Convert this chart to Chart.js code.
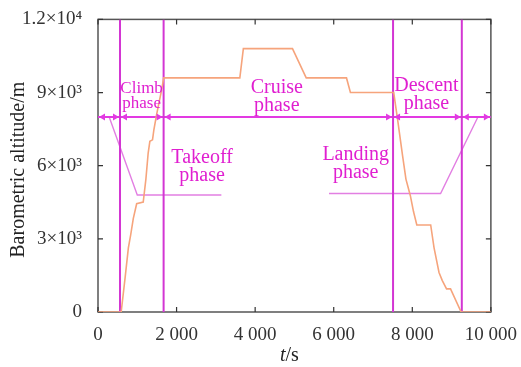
<!DOCTYPE html>
<html>
<head>
<meta charset="utf-8">
<script src="https://cdn.jsdelivr.net/npm/chart.js@4.4.1/dist/chart.umd.min.js"></script>
<style>
  html, body { margin: 0; padding: 0; background: #fff; }
  #chart { display: block; }
</style>
</head>
<body>
<canvas id="chart" width="521" height="367"></canvas>
<script>
// flight profile: barometric altitude vs time
var timeS = [0, 590, 691, 773, 833, 899, 984, 1151, 1219, 1277, 1320, 1388, 1421, 1489, 1547, 1615, 1673,
    3610, 3700, 4950, 5300, 6325, 6425, 7527, 7628, 7754, 7838, 7949, 8032, 8115, 8468, 8554, 8680,
    8764, 8872, 8973, 9243, 10000];
var altitudeM = [0, 0, 1420, 2630, 3170, 3840, 4440, 4510, 5450, 6520, 7000, 7060, 7460, 8070, 8540, 9070, 9600,
    9600, 10800, 10800, 9600, 9600, 9000, 9000, 7870, 6390, 5450, 4780, 4110, 3570, 3570, 2630, 1620,
    1290, 950, 950, 0, 0];

// phase boundaries (s) and the level of the arrow line
var phaseBounds = [560, 1670, 7510, 9260];
var arrowLevel = 8000;

// leader lines for the takeoff / landing labels
var takeoffLeaderT = [285, 1000, 3140];
var takeoffLeaderAlt = [8000, 4800, 4800];
var landingLeaderT = [5880, 8720, 9670];
var landingLeaderAlt = [4860, 4860, 8000];

var xTicks = [0, 2000, 4000, 6000, 8000, 10000];
var xTickLabels = ['0', '2 000', '4 000', '6 000', '8 000', '10 000'];
var yTicks = [0, 3000, 6000, 9000, 12000];
var yTickLabels = ['0', '3×10³', '6×10³', '9×10³', '1.2×10⁴'];

var phaseLabels = [
    { text: ['Climb', 'phase'], t: 1110, alt: 9000, size: 17 },
    { text: ['Cruise', 'phase'], t: 4550, alt: 9000, size: 20 },
    { text: ['Descent', 'phase'], t: 8360, alt: 9080, size: 20 },
    { text: ['Takeoff', 'phase'], t: 2650, alt: 6120, size: 20 },
    { text: ['Landing', 'phase'], t: 6560, alt: 6250, size: 20 }
];

var magenta = '#d336d3';
var arrowColor = '#e23ae2';
var leaderColor = '#e27fe2';
var textColor = '#e01fd0';
var serif = '"Liberation Serif", "Times New Roman", serif';

function pts(xs, ys) {
    return xs.map(function (x, i) { return { x: x, y: ys[i] }; });
}

var datasets = [];

// altitude curve (first = drawn on top)
datasets.push({
    data: pts(timeS, altitudeM),
    borderColor: '#f6a47c',
    borderWidth: 1.6
});

// vertical phase boundaries
phaseBounds.forEach(function (b) {
    datasets.push({
        data: [{ x: b, y: 0 }, { x: b, y: 12000 }],
        borderColor: magenta,
        borderWidth: 2
    });
});

// horizontal arrow line
datasets.push({
    data: [{ x: 0, y: arrowLevel }, { x: 10000, y: arrowLevel }],
    borderColor: arrowColor,
    borderWidth: 2
});

datasets.push({
    data: pts(takeoffLeaderT, takeoffLeaderAlt),
    borderColor: leaderColor,
    borderWidth: 1.4
});
datasets.push({
    data: pts(landingLeaderT, landingLeaderAlt),
    borderColor: leaderColor,
    borderWidth: 1.4
});

datasets.forEach(function (d) {
    d.pointRadius = 0;
    d.tension = 0;
    d.fill = false;
});

var decorPlugin = {
    id: 'decor',
    beforeDatasetsDraw: function (chart) {
        var ctx = chart.ctx;
        var xs = chart.scales.x, ys = chart.scales.y;
        var a = chart.chartArea;
        ctx.save();
        // frame
        ctx.strokeStyle = '#555';
        ctx.lineWidth = 1.5;
        ctx.strokeRect(a.left, a.top, a.right - a.left, a.bottom - a.top);

        // inward ticks on all four sides
        ctx.lineWidth = 1.2;
        ctx.strokeStyle = '#333';
        ctx.beginPath();
        xTicks.forEach(function (t) {
            var px = xs.getPixelForValue(t);
            ctx.moveTo(px, a.bottom); ctx.lineTo(px, a.bottom - 5);
            ctx.moveTo(px, a.top); ctx.lineTo(px, a.top + 5);
        });
        yTicks.forEach(function (t) {
            var py = ys.getPixelForValue(t);
            ctx.moveTo(a.left, py); ctx.lineTo(a.left + 5, py);
            ctx.moveTo(a.right, py); ctx.lineTo(a.right - 5, py);
        });
        ctx.stroke();
        ctx.restore();
    },
    afterDatasetsDraw: function (chart) {
        var ctx = chart.ctx;
        var xs = chart.scales.x, ys = chart.scales.y;
        var a = chart.chartArea;
        ctx.save();

        // arrowheads at each end of the arrow segments
        var ends = [0].concat(phaseBounds).concat([10000]);
        var yA = ys.getPixelForValue(arrowLevel);
        ctx.fillStyle = arrowColor;
        for (var i = 0; i < ends.length - 1; i++) {
            var l = xs.getPixelForValue(ends[i]);
            var r = xs.getPixelForValue(ends[i + 1]);
            ctx.beginPath();
            ctx.moveTo(l + 1, yA);
            ctx.lineTo(l + 7, yA - 3.5);
            ctx.lineTo(l + 7, yA + 3.5);
            ctx.closePath();
            ctx.fill();
            ctx.beginPath();
            ctx.moveTo(r - 1, yA);
            ctx.lineTo(r - 7, yA - 3.5);
            ctx.lineTo(r - 7, yA + 3.5);
            ctx.closePath();
            ctx.fill();
        }

        // phase labels
        ctx.fillStyle = textColor;
        ctx.textAlign = 'center';
        ctx.textBaseline = 'alphabetic';
        phaseLabels.forEach(function (p) {
            ctx.font = p.size + 'px ' + serif;
            var px = xs.getPixelForValue(p.t);
            var py = ys.getPixelForValue(p.alt);
            p.text.forEach(function (line, k) {
                ctx.fillText(line, px, py + k * p.size * 0.92);
            });
        });

        // axis titles
        ctx.fillStyle = '#222';
        ctx.font = 'italic 20px ' + serif;
        var cx = (a.left + a.right) / 2 - 5;
        var wT = ctx.measureText('t').width;
        ctx.font = '20px ' + serif;
        var wS = ctx.measureText('/s').width;
        ctx.textAlign = 'left';
        ctx.font = 'italic 20px ' + serif;
        ctx.fillText('t', cx - (wT + wS) / 2, 361);
        ctx.font = '20px ' + serif;
        ctx.fillText('/s', cx - (wT + wS) / 2 + wT, 361);

        ctx.translate(24, (a.top + a.bottom) / 2 + 4);
        ctx.rotate(-Math.PI / 2);
        ctx.textAlign = 'center';
        ctx.fillText('Barometric altitude/m', 0, 0);
        ctx.restore();
    }
};

var myChart = new Chart(document.getElementById('chart'), {
    type: 'line',
    data: { datasets: datasets },
    options: {
        responsive: false,
        animation: false,
        devicePixelRatio: 1,
        layout: { padding: { left: 0, top: 14, right: 27, bottom: 0 } },
        plugins: { legend: { display: false }, tooltip: { enabled: false } },
        scales: {
            x: {
                type: 'linear',
                min: 0,
                max: 10000,
                afterBuildTicks: function (s) { s.ticks = xTicks.map(function (v) { return { value: v }; }); },
                afterFit: function (s) { s.height = 55; },
                grid: { display: false },
                border: { display: false },
                ticks: {
                    autoSkip: false,
                    maxRotation: 0,
                    padding: 4,
                    color: '#333',
                    font: { family: serif, size: 19 },
                    callback: function (v) { return xTickLabels[xTicks.indexOf(v)]; }
                }
            },
            y: {
                min: 0,
                max: 12000,
                afterBuildTicks: function (s) { s.ticks = yTicks.map(function (v) { return { value: v }; }); },
                afterFit: function (s) { s.width = 98; },
                grid: { display: false },
                border: { display: false },
                ticks: {
                    autoSkip: false,
                    padding: 8,
                    color: '#333',
                    font: { family: serif, size: 19 },
                    callback: function (v) { return yTickLabels[yTicks.indexOf(v)]; }
                }
            }
        }
    },
    plugins: [decorPlugin]
});
</script>
</body>
</html>
